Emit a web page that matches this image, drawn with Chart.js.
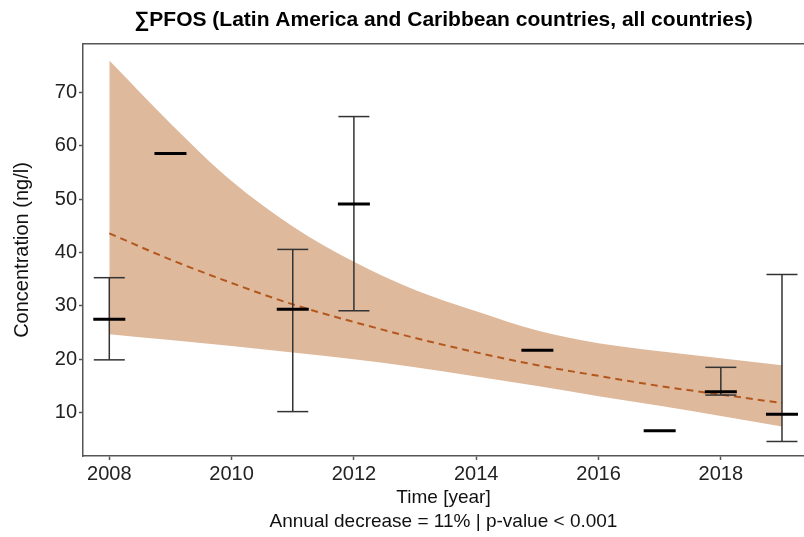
<!DOCTYPE html>
<html>
<head>
<meta charset="utf-8">
<script src="https://cdn.jsdelivr.net/npm/chart.js@4.4.1/dist/chart.umd.min.js"></script>
<style>
    html, body { margin: 0; padding: 0; background: #fff; }
    #wrap { width: 804px; height: 537px; }
</style>
</head>
<body>
<div id="wrap"><canvas id="pfos-canvas" width="804" height="537"></canvas></div>
<script>
const years = [2008, 2009, 2010, 2011, 2012, 2013, 2014, 2015, 2016, 2017, 2018, 2019];
const fitLine = [43.6, 38.7, 34.3, 30.3, 27.0, 24.0, 21.3, 18.9, 16.9, 15.0, 13.4, 11.8];
const bandUpper = [76, 64.2, 53.4, 44.9, 38.3, 33.0, 29.0, 25.4, 23.0, 21.5, 20.2, 18.9];
const bandLower = [24.7, 23.6, 22.5, 21.3, 20.0, 18.5, 16.8, 15.0, 13.1, 11.3, 9.4, 7.4];

const meanYears = [2008, 2009, 2011, 2012, 2015, 2017, 2018, 2019];
const means = [27.5, 58.6, 29.4, 49.1, 21.7, 6.6, 13.9, 9.7];

const errYears = [2008, 2011, 2012, 2018, 2019];
const errLow = [19.9, 10.2, 29.1, 13.3, 4.6];
const errHigh = [35.3, 40.6, 65.5, 18.5, 35.9];

const xTicks = [2008, 2010, 2012, 2014, 2016, 2018];
const yTicks = [10, 20, 30, 40, 50, 60, 70];

const FONT = "'Liberation Sans', Arial, sans-serif";
const BORDER = "#555";

function toPoints(xs, ys) {
    return xs.map((x, i) => ({ x: x, y: ys[i] }));
}

// vertical stems, broken with nulls between years
const stems = [];
errYears.forEach((yr, i) => {
    stems.push({ x: yr, y: errLow[i] });
    stems.push({ x: yr, y: errHigh[i] });
    stems.push({ x: yr, y: null });
});

const caps = toPoints(errYears, errLow).concat(toPoints(errYears, errHigh));

function noSidePadding(axis) {
    axis.paddingLeft = 0;
    axis.paddingRight = 0;
}

const pfosCanvas = document.querySelector("#pfos-canvas");
const chart = new Chart(pfosCanvas, {
    type: "scatter",
    data: {
        datasets: [
            {
                label: "upper",
                data: toPoints(years, bandUpper),
                showLine: true,
                cubicInterpolationMode: "monotone",
                borderWidth: 0,
                pointRadius: 0,
                fill: "+1",
                backgroundColor: "rgb(222,185,156)",
                order: 5,
            },
            {
                label: "lower",
                data: toPoints(years, bandLower),
                showLine: true,
                cubicInterpolationMode: "monotone",
                borderWidth: 0,
                pointRadius: 0,
                fill: false,
                order: 5,
            },
            {
                label: "fit",
                data: toPoints(years, fitLine),
                showLine: true,
                cubicInterpolationMode: "monotone",
                borderColor: "#b4571e",
                borderWidth: 2,
                borderDash: [7, 5],
                pointRadius: 0,
                order: 4,
            },
            {
                label: "stems",
                data: stems,
                showLine: true,
                spanGaps: false,
                borderColor: "#333",
                borderWidth: 1.5,
                pointRadius: 0,
                order: 3,
            },
            {
                label: "caps",
                data: caps,
                pointStyle: "line",
                pointRadius: 15.5,
                pointBorderWidth: 1.5,
                pointBorderColor: "#333",
                order: 2,
            },
            {
                label: "means",
                data: toPoints(meanYears, means),
                pointStyle: "line",
                pointRadius: 16,
                pointBorderWidth: 3,
                pointBorderColor: "#000",
                order: 1,
            },
        ],
    },
    options: {
        responsive: false,
        animation: false,
        events: [],
        layout: { padding: 0, autoPadding: false },
        plugins: {
            legend: { display: false },
            tooltip: { enabled: false },
        },
        scales: {
            x: {
                type: "linear",
                position: "bottom",
                min: 2007.57,
                max: 2019.36,
                offset: false,
                afterBuildTicks: (axis) => {
                    axis.ticks = xTicks.map((v) => ({ value: v }));
                },
                afterFit: (axis) => {
                    axis.height = 81;
                    noSidePadding(axis);
                },
                grid: {
                    drawOnChartArea: false,
                    drawTicks: true,
                    tickLength: 4,
                    tickWidth: 1.5,
                    tickColor: BORDER,
                },
                border: { display: true, color: BORDER, width: 1.5 },
                ticks: {
                    callback: (v) => String(v),
                    color: "#222",
                    padding: 2,
                    maxRotation: 0,
                    font: { family: FONT, size: 20 },
                },
                title: {
                    display: true,
                    text: ["Time [year]", "Annual decrease = 11% | p-value < 0.001"],
                    color: "#111",
                    font: { family: FONT, size: 19, lineHeight: 1.26 },
                    padding: { top: 0, bottom: 3 },
                },
            },
            x2: {
                type: "linear",
                position: "top",
                min: 2007.57,
                max: 2019.36,
                afterFit: (axis) => {
                    axis.height = 44;
                    noSidePadding(axis);
                },
                grid: { display: false },
                border: { display: true, color: BORDER, width: 1.5 },
                ticks: { display: false },
                title: {
                    display: true,
                    text: "\u2211PFOS (Latin America and Caribbean countries, all countries)",
                    color: "#000",
                    font: { family: FONT, size: 21, weight: "bold", lineHeight: 1.2 },
                    padding: { top: 8, bottom: 0 },
                },
            },
            y: {
                type: "linear",
                position: "left",
                min: 1.88,
                max: 79.1,
                afterBuildTicks: (axis) => {
                    axis.ticks = yTicks.map((v) => ({ value: v }));
                },
                afterFit: (axis) => {
                    axis.width = 83;
                },
                grid: {
                    drawOnChartArea: false,
                    drawTicks: true,
                    tickLength: 4,
                    tickWidth: 1.5,
                    tickColor: BORDER,
                },
                border: { display: true, color: BORDER, width: 1.5 },
                ticks: {
                    color: "#222",
                    padding: 2,
                    font: { family: FONT, size: 20 },
                },
                title: {
                    display: true,
                    text: "Concentration (ng/l)",
                    color: "#111",
                    font: { family: FONT, size: 20, lineHeight: 1.2 },
                    padding: { top: 10, bottom: 0 },
                },
            },
        },
    },
});
</script>
</body>
</html>
